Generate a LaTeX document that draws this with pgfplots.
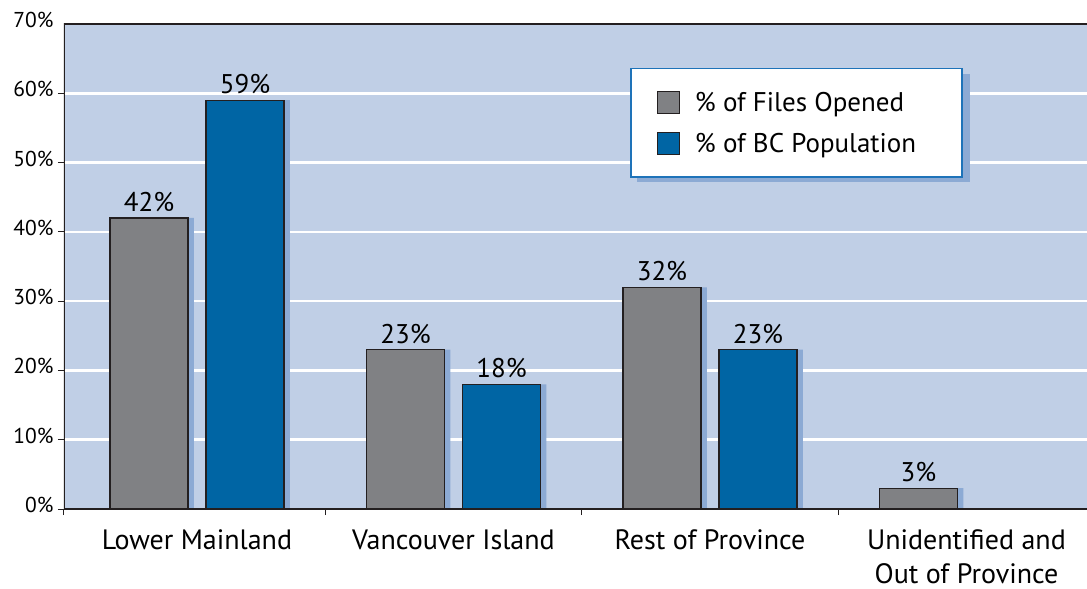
\documentclass[border=0pt]{standalone}
\usepackage{fontspec}
\setmainfont{PT Sans}
\usepackage{pgfplots}
\pgfplotsset{compat=1.18}

\definecolor{bgblue}{RGB}{192,207,230}
\definecolor{barGrey}{RGB}{128,129,132}
\definecolor{barBlue}{RGB}{0,101,164}
\definecolor{shadeBlue}{RGB}{140,170,212}
\definecolor{edge}{RGB}{35,31,32}
\definecolor{legEdge}{RGB}{30,115,185}

\begin{document}
\begin{tikzpicture}
\useasboundingbox (-64bp,-80bp) rectangle (1023bp,509bp);
\begin{axis}[
  at={(0,0)}, anchor=south west,
  scale only axis,
  width=1023bp, height=485bp,
  xmin=-0.5185, xmax=3.47,
  ymin=0, ymax=70,
  axis line style={draw=none},
  axis background/.style={fill=bgblue},
  /pgf/number format/assume math mode=true,
  tick align=outside,
  tick pos=left,
  major tick length=6bp,
  tick style={edge, line width=1bp},
  ytick={0,10,...,60},
  extra y ticks={70},
  extra y tick style={tick style={draw=none}},
  yticklabel={\pgfmathprintnumber{\tick}\%},
  yticklabel style={font=\fontsize{21.5bp}{26bp}\selectfont, yshift=4bp, xshift=-1bp, text=black},
  ymajorgrids,
  grid style={white, line width=2.5bp},
  xtick={-0.5185,0.5,1.5,2.5},
  xticklabels={,,,},
  extra x ticks={0,1,2,3},
  extra x tick labels={Lower Mainland, Vancouver Island, Rest of Province, {Unidentified and\\Out of Province}},
  extra x tick style={tick style={draw=none}, grid=none,
    xticklabel style={font=\fontsize{28bp}{34bp}\selectfont, align=center, yshift=-11bp, text=black}},
  legend style={at={(0.5533,0.9093)}, anchor=north west,
    draw=legEdge, line width=1.5bp, fill=white,
    inner xsep=26bp, inner ysep=22bp, row sep=18bp,
    font=\fontsize{27bp}{32bp}\selectfont,
    nodes={inner sep=0pt},
    /tikz/every odd column/.append style={column sep=15bp}},
  legend cell align=left,
  legend image code/.code={\draw[#1, line width=1.2bp] (0bp,-11bp) rectangle (22bp,11bp);},
]

% shadow of the legend box
\fill[shadeBlue] (rel axis cs:0.5601,0.8969) rectangle (rel axis cs:0.8856,0.6742);

% shadows behind the bars
\addplot[ybar, bar width=78bp, bar shift=-42bp, fill=shadeBlue, draw=none, forget plot]
  coordinates {(0,42) (1,23) (2,32) (3,3)};
\addplot[ybar, bar width=78bp, bar shift=54bp, fill=shadeBlue, draw=none, forget plot]
  coordinates {(0,59) (1,18) (2,23)};

% % of Files Opened
\addplot[ybar, bar width=78bp, bar shift=-48bp, fill=barGrey, draw=edge, line width=1.3bp,
  nodes near coords={\pgfmathprintnumber{\pgfplotspointmeta}\%},
  every node near coord/.append style={font=\fontsize{27bp}{32bp}\selectfont, text=black, xshift=-48bp, yshift=2bp}]
  coordinates {(0,42) (1,23) (2,32) (3,3)};

% % of BC Population
\addplot[ybar, bar width=78bp, bar shift=48bp, fill=barBlue, draw=edge, line width=1.3bp,
  nodes near coords={\pgfmathprintnumber{\pgfplotspointmeta}\%},
  every node near coord/.append style={font=\fontsize{27bp}{32bp}\selectfont, text=black, xshift=48bp, yshift=2bp}]
  coordinates {(0,59) (1,18) (2,23)};

\legend{\% of Files Opened, \% of BC Population\hspace*{20bp}}

% frame: top, left and bottom
\draw[edge, line width=1.5bp] (rel axis cs:0,0) -- (rel axis cs:0,1) -- (rel axis cs:1,1);
\draw[edge, line width=1.5bp] (rel axis cs:0,0) -- (rel axis cs:1,0);
\end{axis}
\end{tikzpicture}
\end{document}
